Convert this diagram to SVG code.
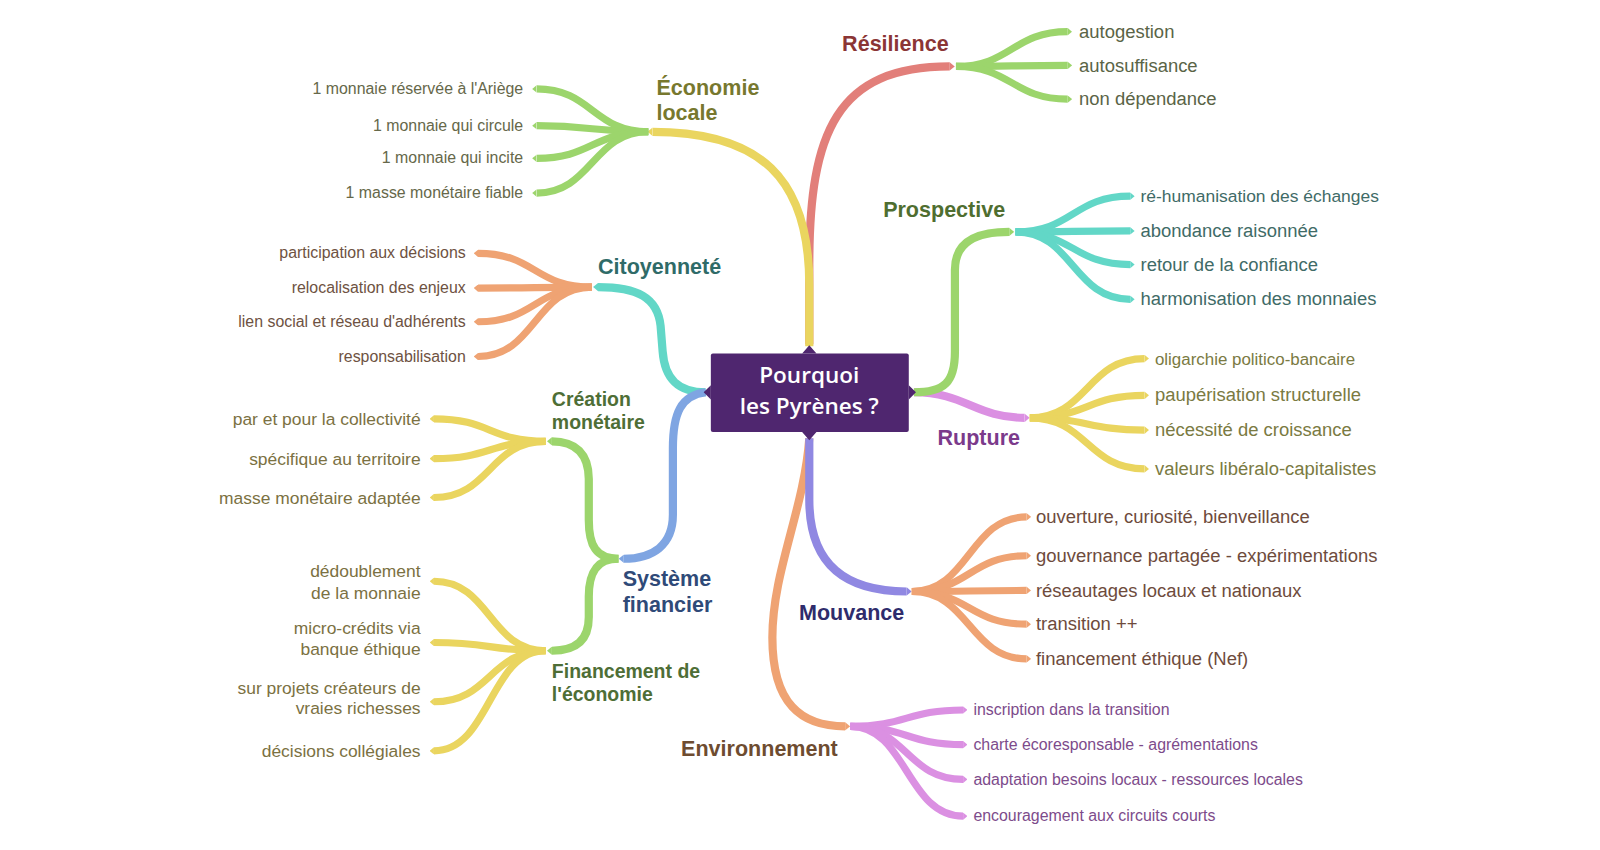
<svg xmlns="http://www.w3.org/2000/svg" width="1600" height="850" viewBox="0 0 1600 850">
<style>
text{font-family:"Liberation Sans",Arial,sans-serif}
.l1{font-weight:bold;font-size:21px}
.l2{font-weight:bold;font-size:19px}
.fs{font-size:15.5px}
.fm{font-size:18px}
.fc{font-size:17px}
.e{text-anchor:end}
.br{fill:none;stroke-width:8}
.lf{fill:none;stroke-width:7}
.sY{stroke:#ead55f}.sG{stroke:#9cd56c}.sR{stroke:#e27f7a}.sT{stroke:#62d7c7}
.sP{stroke:#db90e2}.sO{stroke:#efa373}.sB{stroke:#7fa5e2}.sL{stroke:#9088e2}
.mY{marker-end:url(#tY)}.mG{marker-end:url(#tG)}.mR{marker-end:url(#tR)}.mT{marker-end:url(#tT)}
.mP{marker-end:url(#tP)}.mO{marker-end:url(#tO)}.mB{marker-end:url(#tB)}.mL{marker-end:url(#tL)}
.center{fill:#4f266f}
.ctext{font-family:"Open Sans","Noto Sans",sans-serif;font-weight:600;font-size:22px;fill:#ffffff;text-anchor:middle}
</style>
<defs>
<marker id="tY" viewBox="0 -5 6 10" refX="0" refY="0" markerWidth="0.6" markerHeight="1" orient="auto" markerUnits="strokeWidth"><path d="M0,-5L6,0L0,5Z" fill="#ead55f"/></marker>
<marker id="tG" viewBox="0 -5 6 10" refX="0" refY="0" markerWidth="0.6" markerHeight="1" orient="auto" markerUnits="strokeWidth"><path d="M0,-5L6,0L0,5Z" fill="#9cd56c"/></marker>
<marker id="tR" viewBox="0 -5 6 10" refX="0" refY="0" markerWidth="0.6" markerHeight="1" orient="auto" markerUnits="strokeWidth"><path d="M0,-5L6,0L0,5Z" fill="#e27f7a"/></marker>
<marker id="tT" viewBox="0 -5 6 10" refX="0" refY="0" markerWidth="0.6" markerHeight="1" orient="auto" markerUnits="strokeWidth"><path d="M0,-5L6,0L0,5Z" fill="#62d7c7"/></marker>
<marker id="tP" viewBox="0 -5 6 10" refX="0" refY="0" markerWidth="0.6" markerHeight="1" orient="auto" markerUnits="strokeWidth"><path d="M0,-5L6,0L0,5Z" fill="#db90e2"/></marker>
<marker id="tO" viewBox="0 -5 6 10" refX="0" refY="0" markerWidth="0.6" markerHeight="1" orient="auto" markerUnits="strokeWidth"><path d="M0,-5L6,0L0,5Z" fill="#efa373"/></marker>
<marker id="tB" viewBox="0 -5 6 10" refX="0" refY="0" markerWidth="0.6" markerHeight="1" orient="auto" markerUnits="strokeWidth"><path d="M0,-5L6,0L0,5Z" fill="#7fa5e2"/></marker>
<marker id="tL" viewBox="0 -5 6 10" refX="0" refY="0" markerWidth="0.6" markerHeight="1" orient="auto" markerUnits="strokeWidth"><path d="M0,-5L6,0L0,5Z" fill="#9088e2"/></marker>
</defs>
<rect width="1600" height="850" fill="#ffffff"/>
<g transform="translate(-4,-1) scale(1.0256,1.0215)">
<g id="connectors">
<!-- main branches -->
<path class="br sR mR" d="M793,338 L793,260 C793,130 820,66 930,66"/>
<path class="br sY mY" d="M793,340 L793,280 C793,175 745,130 640,130"/>
<path class="br sP mP" d="M895,385 C945,385 955,410 1003,410"/>
<path class="br sG mG" d="M895,385 C925,385 935,375 935,345 L935,265 C935,238 955,228 988,228"/>
<path class="br sO mO" d="M793,430 C788,500 757,560 757,625 C757,690 785,712 828,712"/>
<path class="br sL mL" d="M793,430 L793,490 C793,555 830,580 888,580"/>
<path class="br sT mT" d="M692,385 C665,385 652,372 650,345 L648,320 C645,292 625,282 587,282"/>
<path class="br sB mB" d="M692,385 C668,388 660,405 660,440 L660,505 C660,535 640,548 612,548"/>
<path class="br sG mG" d="M607,548 C585,548 578,535 578,510 L578,470 C578,445 565,433 542,433"/>
<path class="br sG mG" d="M607,548 C585,548 578,562 578,585 L578,605 C578,628 565,638 542,638"/>
<!-- Économie locale leaves -->
<path class="lf sG mG" d="M636,130 C582,130 581,88 527,88"/>
<path class="lf sG mG" d="M636,130 C582,130 581,124 527,124"/>
<path class="lf sG mG" d="M636,130 C582,130 581,156 527,156"/>
<path class="lf sG mG" d="M636,130 C582,130 581,190 527,190"/>
<!-- Citoyenneté leaves -->
<path class="lf sO mO" d="M581,282 C525,282 526,249 470,249"/>
<path class="lf sO mO" d="M581,282 C525,282 526,283 470,283"/>
<path class="lf sO mO" d="M581,282 C525,282 526,316 470,316"/>
<path class="lf sO mO" d="M581,282 C525,282 526,350 470,350"/>
<!-- Création monétaire leaves -->
<path class="lf sY mY" d="M536,433 C481,433 482,411 427,411"/>
<path class="lf sY mY" d="M536,433 C481,433 482,450 427,450"/>
<path class="lf sY mY" d="M536,433 C481,433 482,488 427,488"/>
<!-- Financement leaves -->
<path class="lf sY mY" d="M536,638 C481,638 482,570 427,570"/>
<path class="lf sY mY" d="M536,638 C481,638 482,630 427,630"/>
<path class="lf sY mY" d="M536,638 C481,638 482,688 427,688"/>
<path class="lf sY mY" d="M536,638 C481,638 482,736 427,736"/>
<!-- Résilience leaves -->
<path class="lf sG mG" d="M936,66 C990,66 991,32 1045,32"/>
<path class="lf sG mG" d="M936,66 C990,66 991,65 1045,65"/>
<path class="lf sG mG" d="M936,66 C990,66 991,98 1045,98"/>
<!-- Prospective leaves -->
<path class="lf sT mT" d="M994,228 C1050,228 1050,193 1106,193"/>
<path class="lf sT mT" d="M994,228 C1050,228 1050,227 1106,227"/>
<path class="lf sT mT" d="M994,228 C1050,228 1050,260 1106,260"/>
<path class="lf sT mT" d="M994,228 C1050,228 1050,294 1106,294"/>
<!-- Rupture leaves -->
<path class="lf sY mY" d="M1008,410 C1064,410 1064,352 1120,352"/>
<path class="lf sY mY" d="M1008,410 C1064,410 1064,388 1120,388"/>
<path class="lf sY mY" d="M1008,410 C1064,410 1064,422 1120,422"/>
<path class="lf sY mY" d="M1008,410 C1064,410 1064,460 1120,460"/>
<!-- Mouvance leaves -->
<path class="lf sO mO" d="M893,580 C949,580 949,507 1005,507"/>
<path class="lf sO mO" d="M893,580 C949,580 949,545 1005,545"/>
<path class="lf sO mO" d="M893,580 C949,580 949,579 1005,579"/>
<path class="lf sO mO" d="M893,580 C949,580 949,612 1005,612"/>
<path class="lf sO mO" d="M893,580 C949,580 949,646 1005,646"/>
<!-- Environnement leaves -->
<path class="lf sP mP" d="M833,712 C888,712 888,696 943,696"/>
<path class="lf sP mP" d="M833,712 C888,712 888,730 943,730"/>
<path class="lf sP mP" d="M833,712 C888,712 888,764 943,764"/>
<path class="lf sP mP" d="M833,712 C888,712 888,800 943,800"/>
</g>

<g id="center">
<rect class="center" x="697" y="347" width="193" height="77" rx="2"/>
<path class="center" d="M786,347L793,339L800,347Z M786,424L793,432L800,424Z M697,378L690,385L697,392Z M890,378L897,385L890,392Z"/>
<text class="ctext" x="793" y="376">Pourquoi</text>
<text class="ctext" x="793" y="406">les Pyrènes ?</text>
</g>

<g id="economie-locale"><text class="l1" fill="#77782e"><tspan x="644" y="94">Économie</tspan><tspan x="644" y="118">locale</tspan></text></g>
<g id="citoyennete"><text class="l1" x="587" y="269" fill="#2f6b68">Citoyenneté</text></g>
<g id="systeme-financier"><text class="l1" fill="#2f4a78"><tspan x="611" y="575">Système</tspan><tspan x="611" y="600">financier</tspan></text></g>
<g id="creation-monetaire"><text class="l2" fill="#4e6e36"><tspan x="542" y="398">Création</tspan><tspan x="542" y="421">monétaire</tspan></text></g>
<g id="financement"><text class="l2" fill="#4e6e36"><tspan x="542" y="665">Financement de</tspan><tspan x="542" y="687">l'économie</tspan></text></g>
<g id="resilience"><text class="l1" x="825" y="51" fill="#8b3535">Résilience</text></g>
<g id="prospective"><text class="l1" x="865" y="213" fill="#4f6e30">Prospective</text></g>
<g id="rupture"><text class="l1" x="918" y="437" fill="#7b3a8b">Rupture</text></g>
<g id="mouvance"><text class="l1" x="783" y="608" fill="#2f2c6c">Mouvance</text></g>
<g id="environnement"><text class="l1" x="668" y="741" fill="#6e4c30">Environnement</text></g>

<g fill="#66684a">
<g id="eco-1"><text class="fs e" x="514" y="93">1 monnaie réservée à l'Ariège</text></g>
<g id="eco-2"><text class="fs e" x="514" y="129">1 monnaie qui circule</text></g>
<g id="eco-3"><text class="fs e" x="514" y="161">1 monnaie qui incite</text></g>
<g id="eco-4"><text class="fs e" x="514" y="195">1 masse monétaire fiable</text></g>
</g>
<g fill="#6e5242">
<g id="cit-1"><text class="fs e" x="458" y="254">participation aux décisions</text></g>
<g id="cit-2"><text class="fs e" x="458" y="288">relocalisation des enjeux</text></g>
<g id="cit-3"><text class="fs e" x="458" y="321">lien social et réseau d'adhérents</text></g>
<g id="cit-4"><text class="fs e" x="458" y="355">responsabilisation</text></g>
</g>
<g fill="#7b7142">
<g id="cre-1"><text class="fc e" x="414" y="417">par et pour la collectivité</text></g>
<g id="cre-2"><text class="fc e" x="414" y="456">spécifique au territoire</text></g>
<g id="cre-3"><text class="fc e" x="414" y="494">masse monétaire adaptée</text></g>
<g id="fin-1"><text class="fc e"><tspan x="414" y="566">dédoublement</tspan><tspan x="414" y="587">de la monnaie</tspan></text></g>
<g id="fin-2"><text class="fc e"><tspan x="414" y="622">micro-crédits via</tspan><tspan x="414" y="642">banque éthique</tspan></text></g>
<g id="fin-3"><text class="fc e"><tspan x="414" y="680">sur projets créateurs de</tspan><tspan x="414" y="700">vraies richesses</tspan></text></g>
<g id="fin-4"><text class="fc e" x="414" y="742">décisions collégiales</text></g>
</g>
<g fill="#5a6446">
<g id="res-1"><text class="fm" x="1056" y="38">autogestion</text></g>
<g id="res-2"><text class="fm" x="1056" y="71">autosuffisance</text></g>
<g id="res-3"><text class="fm" x="1056" y="104">non dépendance</text></g>
</g>
<g fill="#3f6b67">
<g id="pro-1"><text class="fm" x="1116" y="199" style="font-size:17px">ré-humanisation des échanges</text></g>
<g id="pro-2"><text class="fm" x="1116" y="233">abondance raisonnée</text></g>
<g id="pro-3"><text class="fm" x="1116" y="266">retour de la confiance</text></g>
<g id="pro-4"><text class="fm" x="1116" y="300">harmonisation des monnaies</text></g>
</g>
<g fill="#7a7a42">
<g id="rup-1"><text class="fm" x="1130" y="358" style="font-size:16.5px">oligarchie politico-bancaire</text></g>
<g id="rup-2"><text class="fm" x="1130" y="394">paupérisation structurelle</text></g>
<g id="rup-3"><text class="fm" x="1130" y="428">nécessité de croissance</text></g>
<g id="rup-4"><text class="fm" x="1130" y="466">valeurs libéralo-capitalistes</text></g>
</g>
<g fill="#6e4b3c">
<g id="mou-1"><text class="fm" x="1014" y="513">ouverture, curiosité, bienveillance</text></g>
<g id="mou-2"><text class="fm" x="1014" y="551">gouvernance partagée - expérimentations</text></g>
<g id="mou-3"><text class="fm" x="1014" y="585">réseautages locaux et nationaux</text></g>
<g id="mou-4"><text class="fm" x="1014" y="618">transition ++</text></g>
<g id="mou-5"><text class="fm" x="1014" y="652">financement éthique (Nef)</text></g>
</g>
<g fill="#7d4b8b">
<g id="env-1"><text class="fs" x="953" y="701">inscription dans la transition</text></g>
<g id="env-2"><text class="fs" x="953" y="735">charte écoresponsable - agrémentations</text></g>
<g id="env-3"><text class="fs" x="953" y="769">adaptation besoins locaux - ressources locales</text></g>
<g id="env-4"><text class="fs" x="953" y="805">encouragement aux circuits courts</text></g>
</g>
</g>
</svg>
